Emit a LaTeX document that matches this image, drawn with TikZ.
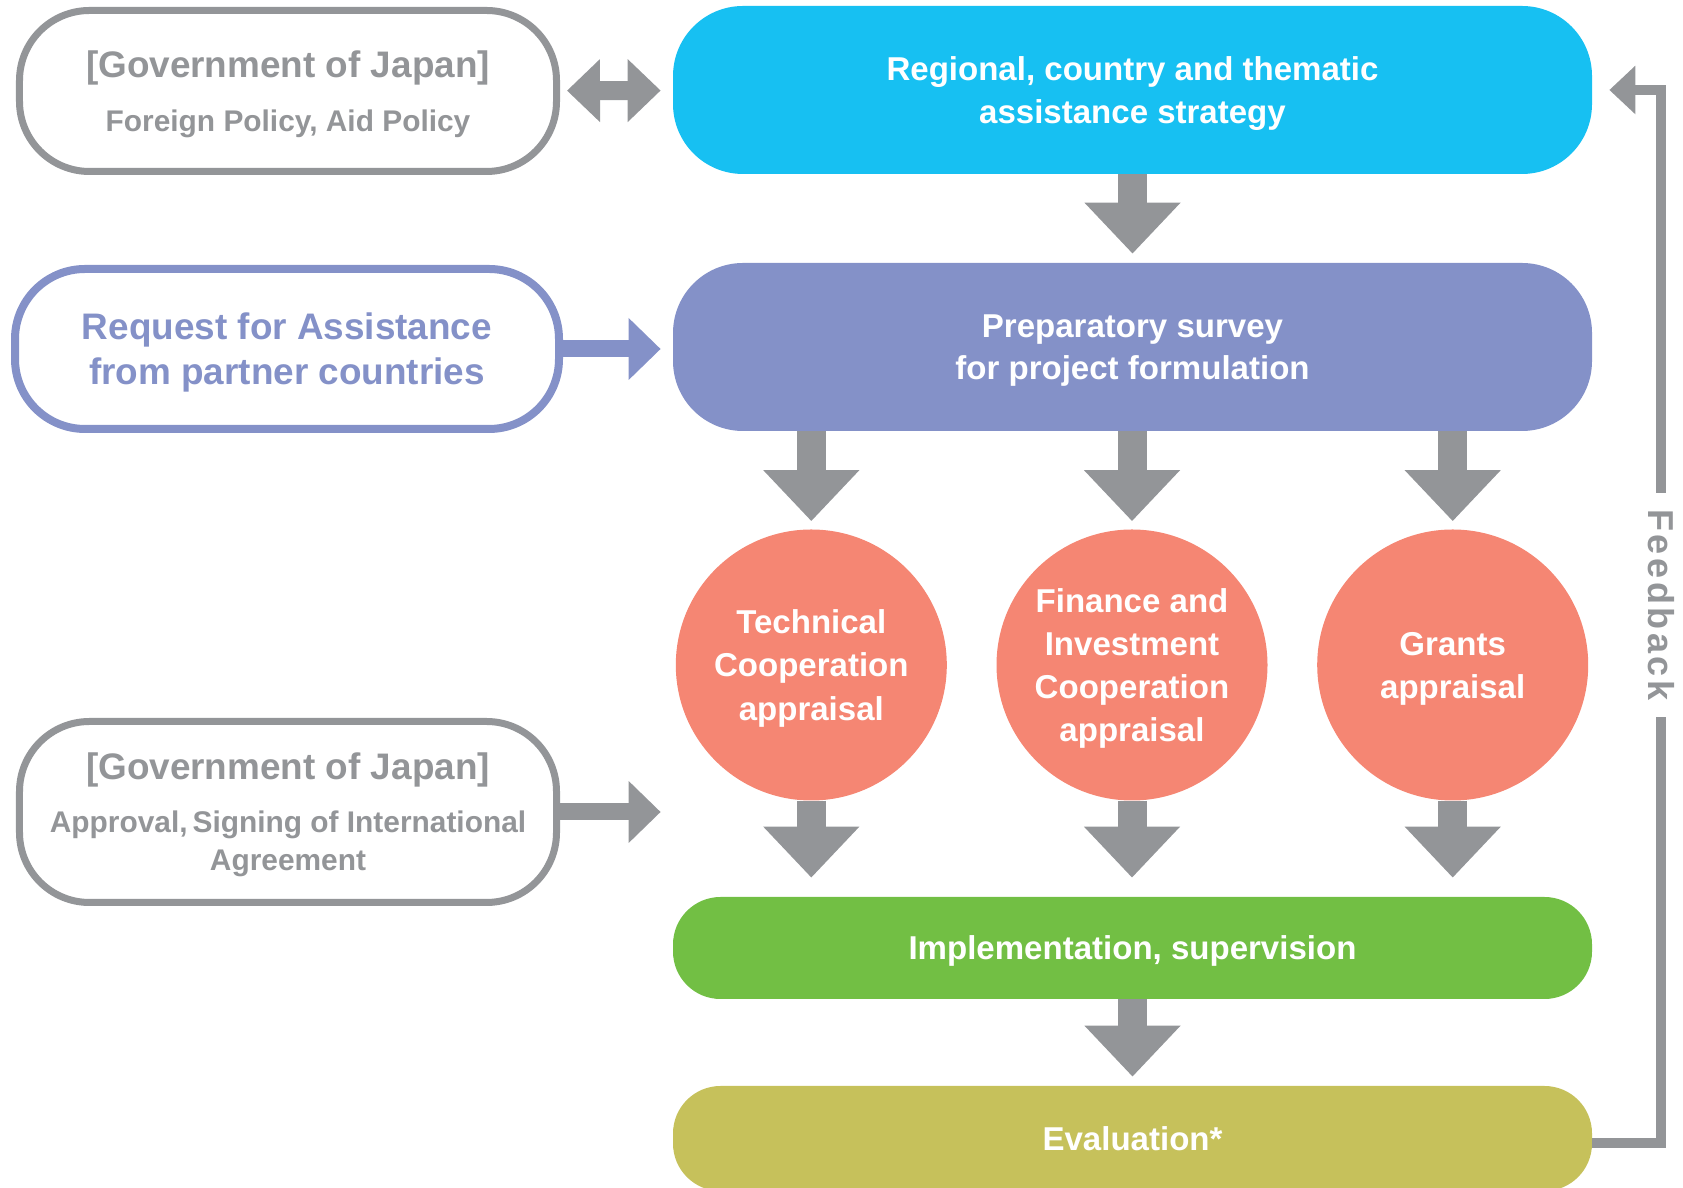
\documentclass[tikz,border=0pt]{standalone}
\usepackage{fontspec}
\setmainfont{Liberation Sans}
\newfontfamily\fbfont{Liberation Sans}[LetterSpace=10]
\usetikzlibrary{arrows.meta,positioning}
\definecolor{jgray}{RGB}{147,149,152}
\definecolor{jcyan}{RGB}{23,192,242}
\definecolor{jpurple}{RGB}{132,145,200}
\definecolor{jsalmon}{RGB}{245,134,115}
\definecolor{jgreen}{RGB}{114,191,68}
\definecolor{jolive}{RGB}{198,193,91}
\begin{document}
\begin{tikzpicture}[
    stage/.style={fill=#1,text=white,minimum width=18.38cm,rounded corners=1.4cm,align=center,text depth=0pt,font=\bfseries\fontsize{18.8}{24}\selectfont},
    govbox/.style={draw=jgray,line width=0.14cm,fill=white,text=jgray,minimum width=10.74cm,rounded corners=1.4cm,align=center,text depth=0pt,font=\bfseries\fontsize{17}{21.6}\selectfont},
    appraisal/.style={circle,fill=jsalmon,text=white,minimum size=5.42cm,inner sep=0pt,align=center,text depth=0pt,font=\bfseries\fontsize{18.8}{24.5}\selectfont},
    downarrow/.style={draw=jgray,line width=0.58cm,-{Triangle[width=1.86cm,length=1.02cm]}},
    sidearrow/.style={draw=#1,line width=0.34cm,-{Triangle[width=1.2cm,length=0.64cm]}},
    ]
    \clip (0,0) rectangle (33.66,23.76);
    %% main column
    \node[stage=jcyan,minimum height=3.36cm] (strat) at (22.65,21.96) {Regional, country and thematic\\assistance strategy};
    \node[stage=jpurple,minimum height=3.36cm] (prep) at (22.65,16.82) {Preparatory survey\\for project formulation};
    \node[appraisal] (fic) at (22.64,10.46) {Finance and\\Investment\\Cooperation\\appraisal};
    \node[appraisal,left=0.98cm of fic] (tc) {Technical\\Cooperation\\appraisal};
    \node[appraisal,right=0.98cm of fic] (gr) {Grants\\appraisal};
    \node[stage=jgreen,minimum height=2.04cm,rounded corners=0.95cm] (impl) at (22.65,4.8) {Implementation, supervision};
    \node[stage=jolive,minimum height=2.1cm,rounded corners=0.95cm] (eval) at (22.65,0.99) {Evaluation*};
    %% side boxes
    \node[govbox,minimum height=3.22cm] (gov) at (5.76,21.94) {{\fontsize{21}{25}\selectfont [Government of Japan]}\\[9pt]Foreign Policy, Aid Policy};
    \node[govbox,draw=jpurple,text=jpurple,line width=0.16cm,minimum width=10.88cm,minimum height=3.2cm,font=\bfseries\fontsize{21}{25.6}\selectfont] (req) at (5.74,16.78) {Request for Assistance\\from partner countries};
    \node[govbox,minimum height=3.62cm,text depth=-1.2pt] (appr) at (5.76,7.52) {{\fontsize{21}{25}\selectfont [Government of Japan]}\\[8.6pt]Approval,\,Signing of International\\Agreement};
    %% arrows
    \draw[downarrow,shorten >=0.18cm] (strat) -- (prep);
    \foreach \c in {tc,fic,gr} {
        \draw[downarrow,shorten >=0.16cm] (prep.south -| \c) -- (\c);
        \draw[downarrow,shorten >=0.38cm] (\c) -- (\c |- impl.north);
    }
    \draw[downarrow,shorten >=0.18cm] (impl) -- (eval);
    \draw[jgray,line width=0.38cm,{Triangle[width=1.22cm,length=0.66cm]}-{Triangle[width=1.22cm,length=0.66cm]},shorten <=0.14cm,shorten >=0.24cm] (gov) -- (strat);
    \draw[sidearrow=jpurple,shorten >=0.24cm] (req) -- (req -| prep.west);
    \draw[sidearrow=jgray,shorten >=0.24cm] (appr) -- (appr -| prep.west);
    %% feedback
    \coordinate (fbx) at (33.22,0);
    \coordinate (fbstart) at ([yshift=-0.09cm]eval.east);
    \draw[jgray,line width=0.2cm,-{Triangle[width=0.94cm,length=0.52cm]},shorten >=0.34cm] (fbstart) -- (fbstart -| fbx) -- node[pos=0.511,rotate=-90,fill=white,inner xsep=0.32cm,text=jgray,font=\fbfont\bfseries\fontsize{20.5}{24}\selectfont] (fb) {Feedback} (strat.east -| fbx) -- (strat.east);
\end{tikzpicture}
\end{document}
